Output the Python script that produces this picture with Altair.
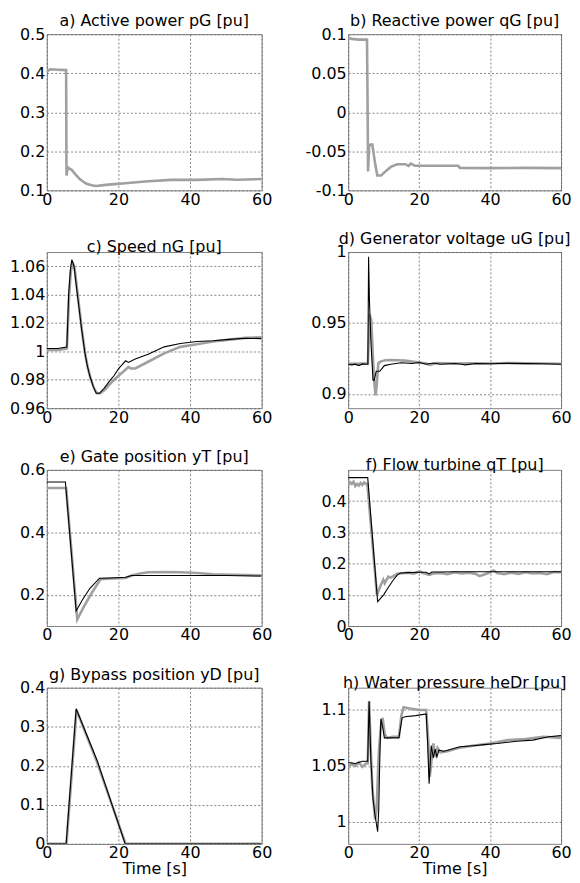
import altair as alt
import pandas as pd

# ---------------- data ----------------
a_t = [0, 1, 3, 5.4, 5.5, 5.7, 6.0, 7.0, 8.0, 9.2, 10.2, 11.1, 12.5, 13.8, 16.5, 19, 21.9, 27.4, 34.6, 41.9, 49.1, 53, 56, 60]
a_v = [0.405, 0.41, 0.409, 0.408, 0.138, 0.15, 0.158, 0.152, 0.141, 0.129, 0.122, 0.117, 0.113, 0.111, 0.114, 0.116, 0.118, 0.1226, 0.1268, 0.1268, 0.129, 0.127, 0.128, 0.129]

b_t = [0, 1, 3, 5.3, 5.45, 5.6, 5.9, 6.3, 6.8, 7.2, 7.7, 8.2, 9.3, 10.2, 12, 13.8, 16.1, 17.0, 17.7, 18.8, 25, 31, 31.5, 40, 50, 60]
b_v = [0.095, 0.094, 0.093, 0.093, 0.02, -0.0757, -0.0435, -0.0414, -0.0414, -0.054, -0.0686, -0.081, -0.081, -0.077, -0.07, -0.0665, -0.0665, -0.0686, -0.0657, -0.0686, -0.0686, -0.0686, -0.0712, -0.0715, -0.0712, -0.0715]

c_tb = [0, 3, 5.6, 6.1, 6.6, 7.0, 7.6, 8.2, 8.8, 9.7, 10.6, 11.3, 12.0, 13.0, 13.8, 14.7, 16, 17.4, 18.8, 20.1, 21.0, 22.0, 22.8, 24.7, 28.3, 32.8, 37.3, 41.9, 46.4, 51, 55.5, 60]
c_vb = [1.002, 1.002, 1.003, 1.04, 1.058, 1.0647, 1.06, 1.047, 1.0348, 1.016, 0.9997, 0.99, 0.983, 0.975, 0.9705, 0.9705, 0.974, 0.9787, 0.983, 0.988, 0.9905, 0.9934, 0.9922, 0.9946, 0.998, 1.0032, 1.0056, 1.007, 1.0075, 1.0085, 1.0093, 1.009]
c_tg = [0, 3, 5.6, 6.2, 6.7, 7.2, 7.8, 8.4, 9.0, 9.9, 10.8, 11.5, 12.2, 13.2, 14.0, 14.9, 16.2, 17.6, 18.8, 20.1, 21.5, 22.8, 23.5, 24.7, 28.3, 32.8, 37.3, 41.9, 46.4, 51, 55.5, 60]
c_vg = [1.001, 1.001, 1.002, 1.038, 1.056, 1.063, 1.058, 1.045, 1.032, 1.013, 0.997, 0.988, 0.981, 0.974, 0.9705, 0.9705, 0.973, 0.977, 0.980, 0.983, 0.986, 0.989, 0.988, 0.988, 0.9927, 0.9986, 1.0032, 1.005, 1.007, 1.0083, 1.0095, 1.010]

d_tb = [0, 1, 2, 3, 4, 5.0, 5.55, 5.75, 6.0, 6.4, 7.0, 7.3, 7.9, 8.9, 10.2, 12, 15, 18, 20, 22, 24, 26, 30, 32, 33, 36, 40, 45, 50, 55, 60]
d_vb = [0.921, 0.9205, 0.921, 0.920, 0.9212, 0.921, 0.921, 0.9966, 0.965, 0.937, 0.9098, 0.9095, 0.916, 0.916, 0.92, 0.921, 0.922, 0.9215, 0.9222, 0.921, 0.9218, 0.921, 0.9215, 0.921, 0.9205, 0.9215, 0.9213, 0.9216, 0.9214, 0.9213, 0.921]
d_tg = [0, 2, 4, 5.55, 5.75, 6.0, 6.5, 6.9, 7.3, 7.7, 8.0, 8.5, 9.2, 10.5, 12, 14, 16, 18, 20, 22, 23, 25, 30, 35, 40, 45, 50, 55, 60]
d_vg = [0.9215, 0.9212, 0.9215, 0.9215, 0.935, 0.956, 0.952, 0.93, 0.91, 0.899, 0.905, 0.9217, 0.923, 0.9238, 0.924, 0.9238, 0.9235, 0.9228, 0.9222, 0.9215, 0.9205, 0.9218, 0.9215, 0.9217, 0.9215, 0.9218, 0.9216, 0.9215, 0.9213]

e_tb = [0, 5.2, 8.2, 10, 12, 14.7, 18, 22, 23.7, 30, 40, 50, 60]
e_vb = [0.561, 0.561, 0.148, 0.185, 0.22, 0.253, 0.254, 0.256, 0.262, 0.262, 0.262, 0.262, 0.26]
e_tg = [0, 5.4, 8.5, 10.5, 12.5, 15, 18, 22, 23.7, 26, 28.3, 33, 37.3, 42, 46.4, 52, 60]
e_vg = [0.542, 0.542, 0.121, 0.165, 0.205, 0.25, 0.252, 0.254, 0.262, 0.268, 0.272, 0.273, 0.272, 0.27, 0.266, 0.264, 0.262]

f_tb = [0, 5.5, 8.3, 10, 11.1, 13.0, 13.9, 14.8, 17, 20, 22.0, 22.8, 23.6, 26, 30, 40, 50, 60]
f_vb = [0.475, 0.475, 0.078, 0.1, 0.12, 0.152, 0.164, 0.17, 0.171, 0.172, 0.172, 0.167, 0.173, 0.173, 0.174, 0.174, 0.174, 0.174]
f_tg = [0, 0.5, 1, 1.5, 2, 2.5, 3, 3.5, 4, 4.5, 5, 5.4, 8.1, 9.0, 9.9, 10.3, 11.3, 12, 13.9, 15.2, 17, 18.5, 20.2, 21, 22.9, 24, 26, 28, 30, 32, 34, 36, 37, 38.4, 40, 41, 42, 44, 46, 48, 50, 52, 54, 56, 58, 60]
f_vg = [0.45, 0.46, 0.455, 0.462, 0.448, 0.455, 0.45, 0.458, 0.452, 0.46, 0.455, 0.455, 0.1, 0.126, 0.148, 0.137, 0.158, 0.155, 0.168, 0.169, 0.171, 0.168, 0.175, 0.17, 0.164, 0.168, 0.17, 0.166, 0.172, 0.168, 0.171, 0.167, 0.16, 0.165, 0.172, 0.178, 0.17, 0.166, 0.171, 0.167, 0.172, 0.168, 0.17, 0.166, 0.173, 0.172]

g_tb = [0, 5.4, 8.2, 14, 21.9, 30, 40, 50, 60]
g_vb = [0, 0, 0.346, 0.215, 0, 0, 0, 0, 0]
g_tg = [0, 5.5, 8.3, 14, 22.0, 60]
g_vg = [0, 0, 0.343, 0.21, 0, 0]

h_tb = [0, 2, 4, 5.5, 5.9, 6.4, 7.0, 7.6, 8.3, 8.6, 8.9, 9.2, 9.7, 10.2, 12, 14.3, 15.2, 16, 19, 22, 22.4, 22.8, 23.4, 24, 24.5, 25, 25.6, 27, 31.5, 35.2, 38.4, 42, 47.5, 52, 56.5, 60]
h_vb = [1.053, 1.052, 1.054, 1.054, 1.1076, 1.055, 1.02, 1.005, 0.991, 1.01, 1.055, 1.092, 1.085, 1.075, 1.075, 1.075, 1.093, 1.094, 1.095, 1.0965, 1.07, 1.034, 1.068, 1.057, 1.065, 1.058, 1.064, 1.063, 1.067, 1.068, 1.069, 1.07, 1.072, 1.073, 1.076, 1.077]
h_tg = [0, 1, 2, 3, 4, 5, 5.5, 5.9, 6.3, 6.8, 7.6, 8.0, 8.6, 9.2, 9.7, 10.3, 11, 12.5, 14.3, 15.0, 15.6, 18, 20, 22.0, 22.6, 23.0, 23.5, 24, 24.6, 25.2, 26, 28, 31, 35, 40, 45, 50, 55, 60]
h_vg = [1.048, 1.052, 1.05, 1.053, 1.049, 1.052, 1.052, 1.108, 1.07, 1.03, 1.002, 1.01, 1.06, 1.085, 1.093, 1.078, 1.075, 1.076, 1.076, 1.095, 1.1025, 1.101, 1.1, 1.1, 1.07, 1.04, 1.055, 1.07, 1.058, 1.066, 1.062, 1.063, 1.066, 1.068, 1.07, 1.073, 1.074, 1.076, 1.075]

x_ticks = [0, 20, 40, 60]

FONT = "DejaVu Sans"
H = 157
GRAY = "#a0a0a0"
LABEL_EXPR = "replace(format(datum.value, '~g'), '\u2212', '-')"


def panel(title, tg, vg, tb, vb, domain, yticks, width, yext, xtitle=None):
    xax = alt.Axis(values=x_ticks, grid=True, labelFlush=False, domain=False, ticks=False,
                   labelPadding=1, title=xtitle, titlePadding=0, labelExpr=LABEL_EXPR)
    yax = alt.Axis(values=yticks, grid=True, labelFlush=False, domain=False, ticks=False,
                   labelPadding=2, minExtent=yext, maxExtent=yext, title=None,
                   labelExpr=LABEL_EXPR)
    xs = alt.Scale(domain=[0, 60], nice=False)
    ys = alt.Scale(domain=domain, nice=False, zero=False)
    dg = pd.DataFrame({"t": tg, "v": vg})
    layers = [alt.Chart(dg).mark_line(color=GRAY, strokeWidth=2.6, clip=True).encode(
        x=alt.X("t:Q", scale=xs, axis=xax), y=alt.Y("v:Q", scale=ys, axis=yax))]
    if tb is not None:
        db = pd.DataFrame({"t": tb, "v": vb})
        layers.append(alt.Chart(db).mark_line(color="black", strokeWidth=1.1, clip=True).encode(
            x=alt.X("t:Q", scale=xs, axis=xax), y=alt.Y("v:Q", scale=ys, axis=yax)))
    return alt.layer(*layers).properties(
        width=width, height=H,
        title=alt.TitleParams(title, frame="group", offset=-3))


WL, WR = 216, 214
EL, ER = 38, 44

pa = panel("a) Active power pG [pu]", a_t, a_v, None, None, [0.1, 0.5], [0.1, 0.2, 0.3, 0.4, 0.5], WL, EL)
pb = panel("b) Reactive power qG [pu]", b_t, b_v, None, None, [-0.1, 0.1], [-0.1, -0.05, 0, 0.05, 0.1], WR, ER)
pc = panel("c) Speed nG [pu]", c_tg, c_vg, c_tb, c_vb, [0.96, 1.07], [0.96, 0.98, 1.0, 1.02, 1.04, 1.06], WL, EL)
pd_ = panel("d) Generator voltage uG [pu]", d_tg, d_vg, d_tb, d_vb, [0.89, 1.0], [0.9, 0.95, 1.0], WR, ER)
pe = panel("e) Gate position yT [pu]", e_tg, e_vg, e_tb, e_vb, [0.1, 0.6], [0.2, 0.4, 0.6], WL, EL)
pf = panel("f) Flow turbine qT [pu]", f_tg, f_vg, f_tb, f_vb, [0, 0.5], [0, 0.1, 0.2, 0.3, 0.4], WR, ER)
pg = panel("g) Bypass position yD [pu]", g_tg, g_vg, g_tb, g_vb, [0, 0.4], [0, 0.1, 0.2, 0.3, 0.4], WL, EL, "Time [s]")
ph = panel("h) Water pressure heDr [pu]", h_tg, h_vg, h_tb, h_vb, [0.98, 1.12], [1.0, 1.05, 1.1], WR, ER, "Time [s]")

SP = 31
rows = [alt.hconcat(pa, pb, spacing=SP), alt.hconcat(pc, pd_, spacing=SP),
        alt.hconcat(pe, pf, spacing=SP), alt.hconcat(pg, ph, spacing=SP)]

chart = alt.vconcat(*rows, spacing=22).properties(
    padding={"left": 0, "top": 2, "right": 0, "bottom": 0}
).configure_view(
    stroke="#808080", strokeWidth=1
).configure_axis(
    labelFont=FONT, labelFontSize=16, labelColor="black",
    titleFont=FONT, titleFontSize=16, titleFontWeight="normal", titleColor="black",
    gridColor="#666666", gridDash=[2, 2], gridWidth=0.8, gridOpacity=1
).configure_title(
    font=FONT, fontSize=16, fontWeight="normal", color="black", anchor="middle"
)

chart.save("out.html", embed_options={"renderer": "svg", "actions": False})
